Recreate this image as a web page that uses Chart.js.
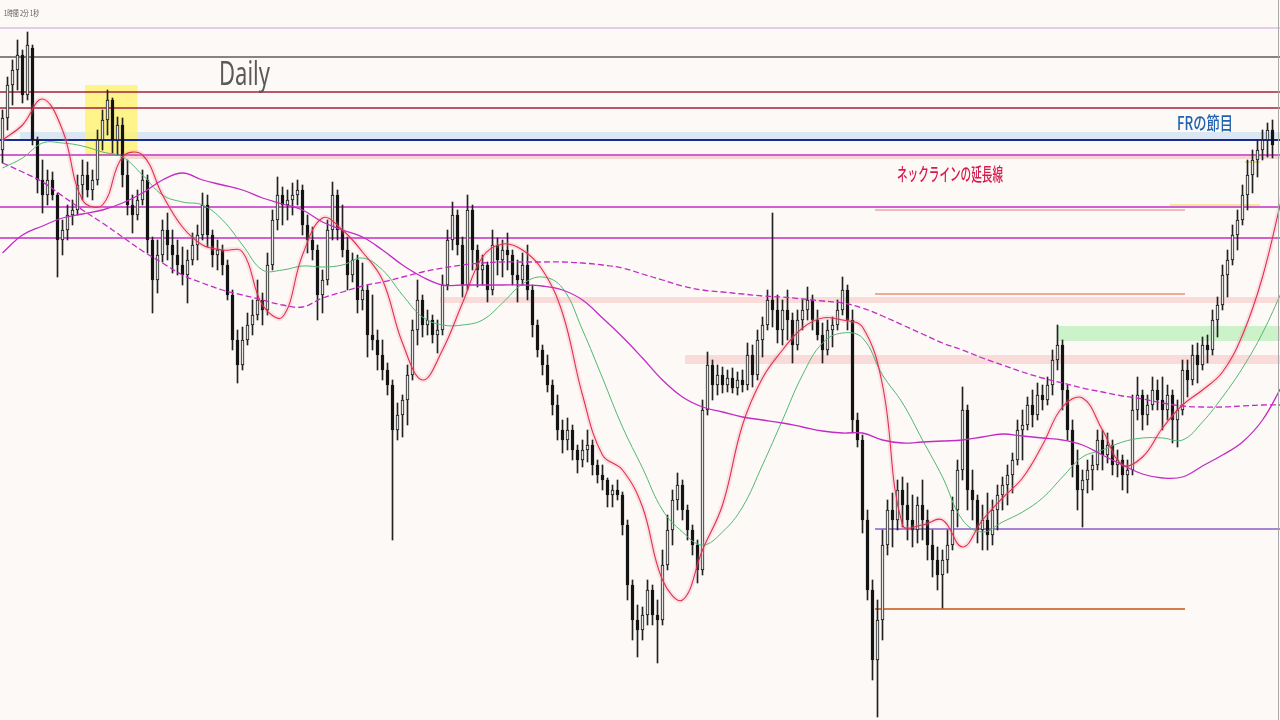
<!DOCTYPE html>
<html>
<head>
<meta charset="utf-8">
<title>Daily</title>
<script src="https://cdn.jsdelivr.net/npm/chart.js@4.4.0/dist/chart.umd.min.js"></script>
<style>
  html, body { margin: 0; padding: 0; background: #fdf9f6; overflow: hidden; }
  canvas { display: block; }
</style>
</head>
<body>
<canvas id="chart" width="1280" height="720"></canvas>
<script>
// Daily candles, one entry per day, prices in points
const opens = [
  570, 602, 635, 650, 665, 625, 672, 580, 540, 525, 540, 525, 480, 490, 505, 510, 535, 545, 530, 540,
  580, 600, 620, 580, 595, 545, 515, 505, 520, 540, 480, 440, 465, 490, 475, 465, 455, 445, 460, 475,
  485, 515, 485, 465, 470, 455, 425, 380, 355, 380, 395, 405, 420, 410, 455, 500, 525, 515, 520, 525,
  530, 495, 480, 470, 425, 440, 490, 525, 490, 470, 445, 460, 420, 430, 385, 380, 365, 350, 335, 290,
  305, 320, 345, 390, 420, 395, 400, 385, 390, 435, 480, 505, 475, 435, 510, 470, 450, 455, 430, 475,
  460, 470, 465, 445, 440, 455, 430, 395, 370, 355, 335, 315, 290, 280, 290, 270, 260, 270, 275, 255,
  245, 240, 225, 230, 225, 195, 135, 100, 90, 105, 130, 105, 100, 155, 190, 220, 235, 210, 190, 175,
  150, 310, 355, 335, 345, 335, 342, 332, 340, 335, 365, 345, 380, 395, 420, 410, 390, 410, 400, 375,
  400, 410, 420, 400, 385, 370, 390, 395, 410, 430, 400, 300, 280, 200, 130, 60, 100, 175, 210, 200,
  230, 215, 200, 190, 215, 200, 175, 160, 145, 160, 175, 210, 250, 310, 230, 220, 190, 200, 185, 210,
  225, 235, 245, 260, 290, 295, 315, 305, 325, 320, 335, 360, 375, 330, 290, 255, 230, 240, 250, 255,
  280, 265, 275, 255, 260, 245, 250, 310, 325, 305, 315, 330, 320, 310, 325, 300, 310, 350, 340, 365,
  355, 375, 370, 400, 415, 445, 460, 485, 500, 525, 545, 560, 570, 580, 590
]
const highs = [
  610, 643, 660, 680, 670, 688, 675, 583, 560, 550, 548, 527, 500, 515, 520, 545, 560, 558, 550, 590,
  610, 630, 622, 603, 602, 560, 525, 530, 550, 545, 483, 480, 500, 507, 490, 480, 473, 470, 487, 495,
  527, 525, 490, 480, 475, 460, 430, 390, 393, 407, 420, 440, 427, 467, 510, 543, 533, 530, 537, 540,
  535, 505, 493, 475, 450, 500, 538, 530, 515, 483, 467, 465, 457, 435, 425, 390, 380, 357, 340, 317,
  325, 355, 400, 440, 425, 410, 405, 400, 445, 490, 518, 510, 483, 525, 515, 475, 465, 458, 490, 482,
  480, 487, 470, 460, 467, 475, 435, 400, 375, 365, 340, 325, 300, 302, 295, 275, 280, 290, 280, 260,
  255, 242, 235, 240, 228, 200, 140, 115, 113, 140, 135, 120, 170, 205, 230, 247, 240, 215, 195, 180,
  320, 368, 360, 355, 353, 350, 352, 348, 350, 377, 375, 390, 403, 430, 507, 425, 420, 430, 407, 410,
  420, 433, 425, 410, 397, 400, 403, 420, 443, 435, 410, 307, 285, 210, 140, 120, 190, 220, 227, 240,
  243, 237, 225, 223, 240, 210, 190, 173, 170, 190, 223, 260, 333, 315, 250, 225, 215, 227, 220, 235,
  243, 255, 267, 300, 310, 323, 330, 337, 335, 343, 370, 395, 380, 335, 300, 270, 250, 260, 265, 290,
  290, 287, 280, 270, 265, 260, 325, 343, 330, 325, 343, 340, 343, 335, 330, 320, 360, 360, 375, 377,
  383, 385, 410, 423, 455, 470, 495, 510, 535, 560, 570, 580, 590, 597, 600
]
const lows = [
  557, 590, 615, 630, 617, 620, 575, 527, 507, 515, 520, 443, 465, 480, 495, 505, 520, 523, 520, 535,
  570, 585, 567, 565, 533, 505, 487, 500, 515, 467, 407, 427, 458, 460, 447, 445, 435, 417, 455, 460,
  480, 473, 453, 450, 445, 420, 370, 337, 350, 375, 385, 400, 395, 405, 450, 490, 495, 500, 505, 515,
  485, 467, 460, 400, 407, 435, 480, 480, 463, 430, 438, 407, 410, 363, 370, 350, 340, 325, 180, 280,
  283, 295, 340, 375, 383, 385, 377, 367, 385, 430, 470, 465, 423, 430, 450, 433, 435, 418, 425, 445,
  443, 450, 435, 418, 435, 420, 383, 363, 345, 328, 305, 280, 267, 270, 260, 247, 253, 258, 245, 237,
  230, 213, 213, 220, 185, 120, 80, 63, 80, 95, 95, 57, 95, 150, 175, 210, 200, 180, 165, 137,
  145, 305, 320, 325, 327, 328, 327, 325, 328, 330, 333, 340, 363, 390, 393, 377, 375, 380, 357, 370,
  390, 400, 390, 380, 357, 365, 373, 390, 405, 390, 287, 273, 187, 120, 40, 3, 80, 165, 173, 190,
  193, 180, 173, 177, 180, 160, 143, 130, 112, 147, 170, 193, 240, 210, 200, 177, 170, 170, 175, 190,
  210, 215, 227, 255, 260, 290, 293, 300, 310, 315, 325, 350, 310, 280, 243, 210, 193, 227, 230, 250,
  250, 257, 245, 243, 230, 227, 245, 300, 290, 295, 310, 310, 290, 300, 277, 273, 305, 323, 335, 337,
  350, 357, 365, 383, 410, 423, 455, 470, 495, 510, 527, 543, 560, 563, 562
]
const closes = [
  602, 635, 650, 665, 625, 675, 580, 540, 525, 540, 525, 480, 490, 505, 510, 535, 545, 530, 540, 580,
  600, 620, 580, 595, 545, 515, 505, 520, 540, 480, 440, 465, 490, 475, 465, 455, 445, 460, 475, 485,
  515, 485, 465, 470, 455, 425, 380, 355, 380, 395, 405, 420, 410, 455, 500, 525, 515, 520, 525, 530,
  495, 480, 470, 425, 440, 490, 525, 490, 470, 445, 460, 420, 430, 385, 380, 365, 350, 335, 290, 305,
  320, 345, 390, 420, 395, 400, 385, 390, 435, 480, 505, 475, 435, 510, 470, 450, 455, 430, 475, 460,
  470, 465, 445, 440, 455, 430, 395, 370, 355, 335, 315, 290, 280, 290, 270, 260, 270, 275, 255, 245,
  240, 225, 230, 225, 195, 135, 100, 90, 105, 130, 105, 100, 155, 190, 220, 235, 210, 190, 175, 150,
  310, 355, 335, 345, 335, 342, 332, 340, 335, 365, 345, 380, 395, 420, 410, 390, 410, 400, 375, 400,
  410, 420, 400, 385, 370, 390, 395, 410, 430, 400, 300, 280, 200, 130, 60, 100, 175, 210, 200, 230,
  215, 200, 190, 215, 200, 175, 160, 145, 160, 175, 210, 250, 310, 230, 220, 190, 200, 185, 210, 225,
  235, 245, 260, 290, 295, 315, 305, 325, 320, 335, 360, 375, 330, 290, 255, 230, 240, 250, 255, 280,
  265, 275, 255, 260, 245, 250, 310, 325, 305, 315, 330, 320, 310, 325, 300, 310, 350, 340, 365, 355,
  375, 370, 400, 415, 445, 460, 485, 500, 525, 545, 560, 570, 580, 590, 575
]

// Moving averages, read every 4th day
const MA_STEP = 4
const fastMA = [
  580, 595, 621, 590, 520, 515, 563, 565, 525, 493, 475, 470, 468, 415, 403, 465, 502, 490, 468, 440,
  377, 340, 370, 417, 463, 476, 470, 450, 407, 325, 265, 250, 213, 140, 120, 170, 215, 295, 342, 370,
  392, 402, 400, 393, 335, 195, 195, 200, 173, 200, 222, 242, 275, 313, 322, 290, 255, 263, 292, 315,
  330, 348, 385, 443, 525
]
const midMA = [
  552, 562, 577, 577, 574, 568, 563, 545, 525, 518, 515, 500, 475, 450, 450, 454, 453, 455, 462, 450,
  425, 403, 395, 395, 400, 417, 436, 443, 432, 390, 342, 293, 252, 210, 188, 175, 188, 213, 255, 300,
  345, 377, 387, 382, 345, 317, 280, 243, 200, 188, 198, 208, 222, 243, 263, 270, 278, 282, 282, 280,
  298, 323, 352, 387, 430
]
const slowMA = [
  467, 485, 494, 502, 506, 510, 517, 527, 540, 547, 540, 535, 530, 522, 516, 510, 498, 490, 483, 470,
  455, 443, 435, 435, 435, 435, 435, 434, 430, 420, 402, 383, 362, 340, 323, 313, 308, 303, 300, 297,
  293, 289, 287, 287, 280, 277, 278, 279, 280, 283, 286, 284, 282, 280, 275, 265, 255, 246, 242, 243,
  254, 265, 278, 300, 335
]
const longMA = [
  557, 548, 538, 524, 510, 497, 483, 469, 457, 445, 437, 430, 425, 420, 415, 413, 422, 428, 434, 438,
  443, 448, 452, 455, 457, 458, 458, 458, 458, 457, 455, 452, 446, 440, 434, 430, 428, 426, 424, 423,
  421, 419, 417, 412, 404, 395, 386, 377, 370, 362, 355, 348, 342, 337, 332, 328, 324, 321, 317, 314,
  313, 313, 314, 315, 315
]

// Horizontal levels across the whole chart
const fullLevels = [692, 663, 628, 612, 580, 565, 513, 482]
// Shorter levels with their first and last day
const shortLevels = [510, 426, 191, 111, 558, 515]
const shortFrom = [174.5, 174.5, 174.5, 174.5, 248.5, 233.5]
const shortTo = [236.5, 236.5, 255.5, 236.5, 251.5, 251.5]

// Price zones: top, bottom, first day, last day
const zoneTop = [588, 564, 423, 365, 394, 635]
const zoneBottom = [581, 561, 417, 356, 379, 565]
const zoneFrom = [3.5, 23.5, 87.5, 136.5, 211, 16.5]
const zoneTo = [255.5, 255.5, 255.5, 255.5, 255.5, 27]

const X_MIN = -0.5
const X_MAX = 255.5

const fullLevelColors = ["#c9a2dc", "#101010", "#a3213f", "#a3213f", "#1a2a94", "#c22cc4", "#c22cc4", "#c22cc4"]
const fullLevelWidths = [1, 1.2, 1.3, 1.3, 2.2, 1.4, 1.4, 1.4]
const shortColors = ["#f1a3a3", "#ef8c7a", "#8a5cc8", "#c8500f", "#eed64e", "#f2df7c"]
const zoneColors = [
    "rgba(196,220,244,0.6)",
    "rgba(240,185,185,0.55)",
    "rgba(246,200,200,0.6)",
    "rgba(246,200,200,0.6)",
    "rgba(170,236,170,0.6)",
    "rgba(255,242,110,0.8)",
]

const days = opens.map((_, i) => i)
const toPoints = values => values.map((v, k) => ({ x: k * MA_STEP, y: v }))

// draws text squeezed to the width it has on the original screenshot
function fitText(ctx, text, x, y, width, font, color, baseline) {
    ctx.save()
    ctx.font = font
    ctx.fillStyle = color
    ctx.textBaseline = baseline || "alphabetic"
    const w = ctx.measureText(text).width
    ctx.translate(x, y)
    ctx.scale(width / w, 1)
    ctx.fillText(text, 0, 0)
    ctx.restore()
}

const backgroundPlugin = {
    id: "background",
    beforeDraw(chart) {
        const ctx = chart.ctx
        ctx.save()
        ctx.fillStyle = "#fdf9f6"
        ctx.fillRect(0, 0, chart.width, chart.height)
        ctx.restore()
    },
}

const zonesPlugin = {
    id: "zones",
    beforeDatasetsDraw(chart) {
        const { ctx, scales: { x, y } } = chart
        ctx.save()
        zoneTop.forEach((top, n) => {
            const x0 = x.getPixelForValue(zoneFrom[n])
            const x1 = x.getPixelForValue(zoneTo[n])
            const y0 = y.getPixelForValue(top)
            const y1 = y.getPixelForValue(zoneBottom[n])
            ctx.fillStyle = zoneColors[n]
            ctx.fillRect(x0, y0, x1 - x0, y1 - y0)
        })
        ctx.restore()
    },
}

const labelsPlugin = {
    id: "labels",
    afterDatasetsDraw(chart) {
        const ctx = chart.ctx
        fitText(ctx, "1時間 2分 1秒", 4, 12.5, 35, '8px "Noto Sans CJK JP"', "#555555", "middle")
        fitText(ctx, "Daily", 219, 85, 51, '33px "Noto Sans"', "#5a5a5a")
        fitText(ctx, "FRの節目", 1177, 123.5, 56, '500 18px "Noto Sans CJK JP"', "#2163b0", "middle")
        fitText(ctx, "ネックラインの延長線", 897, 174, 106, '500 18px "Noto Sans CJK JP"', "#d61a4e", "middle")
        // right frame of the chart window
        ctx.save()
        ctx.strokeStyle = "#a8a8a8"
        ctx.lineWidth = 1
        ctx.beginPath()
        ctx.moveTo(1278.5, 0)
        ctx.lineTo(1278.5, chart.height)
        ctx.stroke()
        ctx.restore()
    },
}

const datasets = []

// horizontal lines sit under the candles
fullLevels.forEach((p, n) => datasets.push({
    type: "line",
    data: [{ x: X_MIN, y: p }, { x: X_MAX, y: p }],
    borderColor: fullLevelColors[n],
    borderWidth: fullLevelWidths[n],
    pointRadius: 0,
    order: 10,
}))
shortLevels.forEach((p, n) => datasets.push({
    type: "line",
    data: [{ x: shortFrom[n], y: p }, { x: shortTo[n], y: p }],
    borderColor: shortColors[n],
    borderWidth: 1.4,
    pointRadius: 0,
    order: 10,
}))

// wicks
datasets.push({
    type: "bar",
    data: days.map(i => ({ x: i, y: [lows[i], highs[i]] })),
    backgroundColor: "#222222",
    barThickness: 1,
    grouped: false,
    order: 8,
})
// bodies: light for up days, black for down days
datasets.push({
    type: "bar",
    data: days.map(i => ({ x: i, y: [Math.min(opens[i], closes[i]), Math.max(opens[i], closes[i])] })),
    backgroundColor: days.map(i => closes[i] > opens[i] ? "#e6e6e6" : "#141414"),
    borderColor: "#141414",
    borderWidth: 1,
    borderSkipped: false,
    barThickness: 3,
    grouped: false,
    order: 7,
})

const maLine = (values, color, width, extra) => Object.assign({
    type: "line",
    data: toPoints(values),
    borderColor: color,
    borderWidth: width,
    pointRadius: 0,
    tension: 0.4,
    fill: false,
    order: 2,
}, extra)

datasets.push(maLine(fastMA, "rgba(240,140,160,0.22)", 5, { order: 4 }))
datasets.push(maLine(midMA, "#52b872", 1, { order: 3 }))
datasets.push(maLine(slowMA, "#c22cc4", 1.3))
datasets.push(maLine(longMA, "#c22cc4", 1.3, { borderDash: [6, 3] }))
datasets.push(maLine(fastMA, "#e0304f", 1.1, { order: 1 }))

new Chart(document.getElementById("chart"), {
    type: "bar",
    data: { datasets },
    options: {
        responsive: false,
        animation: false,
        devicePixelRatio: 1,
        layout: { padding: 0 },
        plugins: {
            legend: { display: false },
            tooltip: { enabled: false },
        },
        scales: {
            x: { type: "linear", min: X_MIN, max: X_MAX, display: false, offset: false },
            y: { type: "linear", min: 0, max: 720, display: false },
        },
    },
    plugins: [backgroundPlugin, zonesPlugin, labelsPlugin],
})
</script>
</body>
</html>
